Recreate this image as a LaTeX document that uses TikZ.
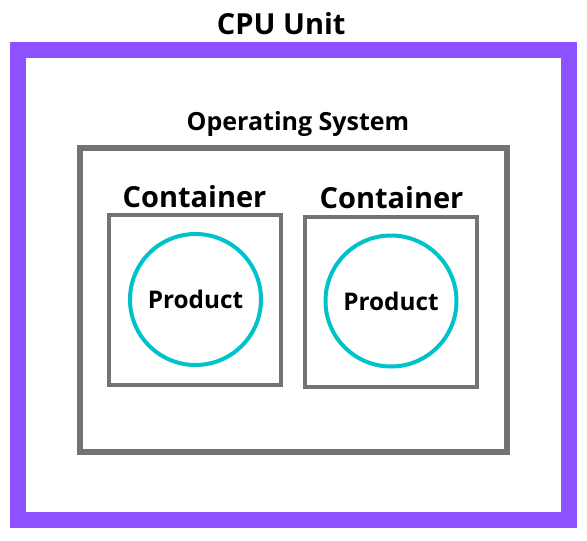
\documentclass[tikz,border=0pt]{standalone}
\usepackage{fontspec}
\setmainfont{Open Sans}
\usepackage{tikz}
\usetikzlibrary{positioning}
\definecolor{cpupurple}{HTML}{8C52FF}
\definecolor{boxgray}{HTML}{737373}
\definecolor{productcyan}{HTML}{00C2CB}
\tikzset{
    cpu-frame/.style = {draw=cpupurple, line width=16pt, rectangle, inner sep=0pt},
    os-frame/.style = {draw=boxgray, line width=6pt, rectangle, inner sep=0pt},
    container-box/.style = {draw=boxgray, line width=4pt, rectangle, inner sep=0pt, minimum width=172pt, minimum height=170pt},
    product-circle/.style = {draw=productcyan, line width=4pt, circle, inner sep=0pt, minimum size=131pt, font=\fontsize{24.3}{28}\selectfont\bfseries},
    frame-title/.style = {anchor=base, inner sep=0pt, font=\fontsize{29}{34}\selectfont\bfseries},
    os-title/.style = {anchor=base, inner sep=0pt, font=\fontsize{25}{30}\selectfont\bfseries},
}

\begin{document}
\begin{tikzpicture}[x=1pt, y=-1pt]
\useasboundingbox (0,0) rectangle (587,541);
% frames
\node [cpu-frame, minimum width=551.5pt, minimum height=470pt] (cpu) at (293.25,285) {};
\node [os-frame, minimum width=427pt, minimum height=304pt] (os) at (293.5,300) {};
\node [container-box] (box1) at (195,300) {};
\node [container-box] (box2) at (391,301.75) {};
% products
\node [product-circle] (prod1) at (195.5,299.5) {Product};
\node [product-circle] (prod2) at (391,301) {Product};
% titles
\node [frame-title] at ([xshift=-12pt, yshift=8pt]cpu.north) {CPU Unit};
\node [os-title] at ([xshift=4.5pt, yshift=15pt]os.north) {Operating System};
\node [frame-title] at ([xshift=-0.5pt, yshift=6pt]box1.north) {Container};
\node [frame-title] at ([xshift=0.5pt, yshift=6.5pt]box2.north) {Container};
\end{tikzpicture}
\end{document}
